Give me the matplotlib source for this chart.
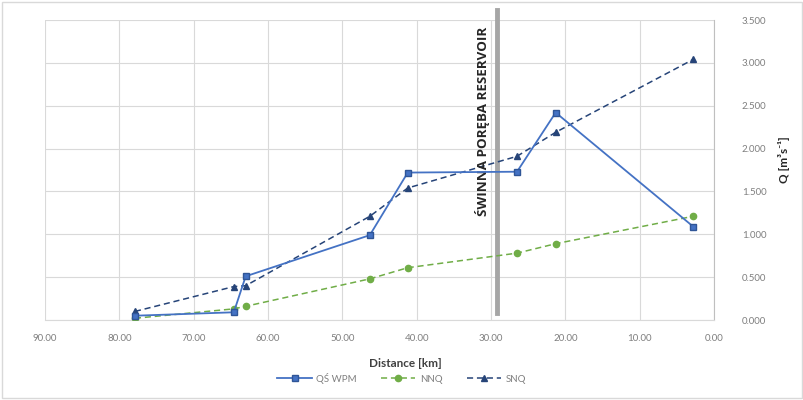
import matplotlib
matplotlib.use("Agg")
import matplotlib.pyplot as plt
from matplotlib.patches import Rectangle

plt.rcParams['font.family'] = ['Lato', 'DejaVu Sans']

# Distance along the river [km] at each gauging cross-section
distance_km = [77.9, 64.6, 63.0, 46.3, 41.2, 26.5, 21.3, 2.8]

# Discharge series [m3/s]
qs_wpm = [0.05, 0.09, 0.51, 0.99, 1.72, 1.73, 2.42, 1.09]
nnq = [0.02, 0.13, 0.16, 0.48, 0.61, 0.78, 0.89, 1.21]
snq = [0.10, 0.39, 0.40, 1.21, 1.54, 1.91, 2.19, 3.04]

series_names = ["QŚ WPM", "NNQ", "SNQ"]
reservoir_km = 29.2
reservoir_label = "ŚWINNA PORĘBA RESERVOIR"

x_ticks = [90, 80, 70, 60, 50, 40, 30, 20, 10, 0]
y_ticks = [0.0, 0.5, 1.0, 1.5, 2.0, 2.5, 3.0, 3.5]

fig = plt.figure(figsize=(8.04, 4.0), dpi=100)
ax = fig.add_axes([45 / 804, 80 / 400, 669 / 804, 300 / 400])

grid_c = "#d9d9d9"
ax.set_xlim(90, 0)
ax.set_ylim(0, 3.5)
ax.set_xticks(x_ticks)
ax.set_yticks(y_ticks)
ax.set_xticklabels([f"{v:.2f}" for v in x_ticks])
ax.set_yticklabels([f"{v:.3f}" for v in y_ticks])
ax.grid(True, color=grid_c, linewidth=0.8)
ax.set_axisbelow(True)
ax.yaxis.tick_right()
ax.yaxis.set_label_position("right")
for side in ["top", "left"]:
    ax.spines[side].set_visible(False)
ax.spines["bottom"].set_color(grid_c)
ax.spines["right"].set_color("#bfbfbf")
ax.tick_params(axis="both", length=0, labelsize=7, colors="#7f7f7f")
ax.tick_params(axis="x", pad=10)
ax.tick_params(axis="y", pad=20)

l1, = ax.plot(distance_km, qs_wpm, color="#4472c4", linewidth=1.3,
              marker="s", markersize=5, markerfacecolor="#4472c4",
              markeredgecolor="#2f5597", label=series_names[0], zorder=4)
l2, = ax.plot(distance_km, nnq, color="#70ad47", linewidth=1.1, linestyle=(0, (4, 2.5)),
              marker="o", markersize=4.5, markerfacecolor="#70ad47",
              markeredgecolor="#70ad47", label=series_names[1], zorder=3)
l3, = ax.plot(distance_km, snq, color="#264478", linewidth=1.1, linestyle=(0, (4, 2.5)),
              marker="^", markersize=5, markerfacecolor="#264478",
              markeredgecolor="#264478", label=series_names[2], zorder=3)

ax.axvline(reservoir_km, ymin=0.023, ymax=1.033, color="#a6a6a6", linewidth=3.5,
           zorder=2, clip_on=False)
ax.text(reservoir_km + 1.0, 3.42, reservoir_label, rotation=90, ha="right", va="top",
        fontsize=9.6, fontweight="bold", color="#262626", family=["Open Sans", "DejaVu Sans"])

ax.set_xlabel("Distance [km]", fontsize=8.5, fontweight="bold", color="#404040",
              family=["Lato", "DejaVu Sans"])
ax.xaxis.set_label_coords((405 - 45) / 669, -38 / 300)
ax.set_ylabel("Q [m³s⁻¹]", fontsize=8.5, fontweight="bold", color="#262626",
              rotation=90, family=["Lato", "DejaVu Sans"])
ax.yaxis.set_label_coords((778 - 45) / 669, 0.535)

fig.legend(handles=[l1, l2, l3], loc="center", bbox_to_anchor=(0.5, 22 / 400),
           ncol=3, frameon=False, fontsize=7, labelcolor="#7f7f7f",
           handlelength=3.5, columnspacing=2.5, handletextpad=0.5)

fig.patches.append(Rectangle((0.003, 0.005), 0.994, 0.99, transform=fig.transFigure,
                             fill=False, edgecolor="#d9d9d9", linewidth=1.0))

fig.savefig("out.png", dpi=100, facecolor="white")
